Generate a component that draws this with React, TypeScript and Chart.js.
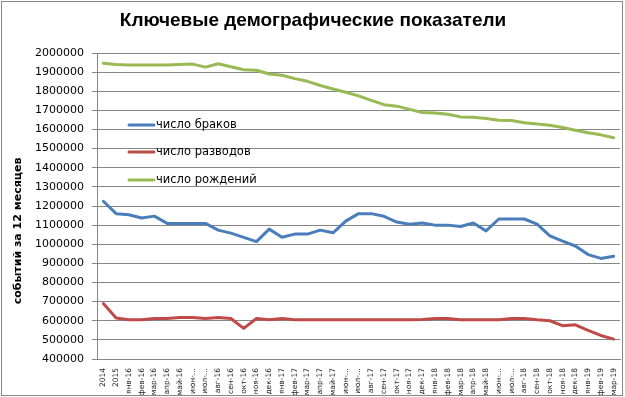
import React, { useEffect, useRef } from "react";
import { Chart, registerables } from "chart.js";

Chart.register(...registerables);

const chartTitle = "Ключевые демографические показатели";
const yAxisTitle = "событий за 12 месяцев";

const categories = [
  "2014", "2015",
  "янв-16", "фев-16", "мар-16", "апр-16", "май-16", "июн-...", "июл-...", "авг-16", "сен-16", "окт-16", "ноя-16", "дек-16",
  "янв-17", "фев-17", "мар-17", "апр-17", "май-17", "июн-...", "июл-...", "авг-17", "сен-17", "окт-17", "ноя-17", "дек-17",
  "янв-18", "фев-18", "мар-18", "апр-18", "май-18", "июн-...", "июл-...", "авг-18", "сен-18", "окт-18", "ноя-18", "дек-18",
  "янв-19", "фев-19", "мар-19",
];

const seriesNames = ["число браков", "число разводов", "число рождений"];

const marriages = [
  1225000, 1160000,
  1154000, 1137000, 1147000, 1109000, 1109000, 1109000, 1109000, 1074000, 1058000, 1036000, 1014000, 1079000,
  1037000, 1053000, 1053000, 1074000, 1060000, 1121000, 1160000, 1160000, 1146000, 1116000, 1105000, 1111000,
  1100000, 1100000, 1093000, 1111000, 1070000, 1132000, 1132000, 1132000, 1105000, 1044000, 1016000, 991000,
  946000, 926000, 937000,
];

const divorces = [
  690000, 614000,
  605000, 605000, 612000, 612000, 617000, 617000, 612000, 617000, 612000, 560000, 612000, 605000,
  612000, 605000, 605000, 605000, 605000, 605000, 605000, 605000, 605000, 605000, 605000, 607000,
  612000, 612000, 605000, 605000, 605000, 605000, 612000, 612000, 605000, 600000, 574000, 579000,
  550000, 523000, 504000,
];

const births = [
  1947000, 1940000,
  1937000, 1937000, 1937000, 1937000, 1940000, 1942000, 1926000, 1944000, 1928000, 1912000, 1910000, 1890000,
  1884000, 1866000, 1852000, 1830000, 1812000, 1795000, 1776000, 1752000, 1730000, 1722000, 1705000, 1689000,
  1686000, 1680000, 1666000, 1664000, 1658000, 1648000, 1647000, 1635000, 1629000, 1622000, 1610000, 1596000,
  1583000, 1572000, 1557000,
];

const seriesColors = ["#4A7EBB", "#BE4B48", "#98B954"];

const yMin = 400000;
const yMax = 2000000;
const yStep = 100000;

const decorPlugin = {
  id: "decor",
  beforeDraw(chart: any) {
    const ctx = chart.ctx;
    ctx.save();
    ctx.fillStyle = "#ffffff";
    ctx.fillRect(0, 0, chart.width, chart.height);
    ctx.restore();
  },
  afterDraw(chart: any) {
    const ctx = chart.ctx;
    ctx.save();
    // outer border
    ctx.strokeStyle = "#868686";
    ctx.lineWidth = 1;
    ctx.strokeRect(1.5, 1.5, 621, 394);
    // title
    ctx.fillStyle = "#000000";
    ctx.font = "bold 19px 'Liberation Sans', Arial, sans-serif";
    ctx.textAlign = "center";
    ctx.textBaseline = "middle";
    ctx.fillText(chartTitle, 313, 21);
    // y axis title
    ctx.save();
    ctx.translate(18, 231);
    ctx.rotate(-Math.PI / 2);
    ctx.font = "bold 11px 'DejaVu Sans', sans-serif";
    ctx.textAlign = "center";
    ctx.textBaseline = "middle";
    ctx.fillText(yAxisTitle, 0, 0);
    ctx.restore();
    // legend
    const rows = [125, 152, 180];
    chart.data.datasets.forEach((ds: any, i: number) => {
      const y = rows[i];
      ctx.strokeStyle = ds.borderColor;
      ctx.lineWidth = 3;
      ctx.lineCap = "round";
      ctx.beginPath();
      ctx.moveTo(129, y);
      ctx.lineTo(154, y);
      ctx.stroke();
      ctx.fillStyle = "#000000";
      ctx.font = "11.5px 'DejaVu Sans', sans-serif";
      ctx.textAlign = "left";
      ctx.textBaseline = "middle";
      ctx.fillText(ds.label, 156, y);
    });
    ctx.restore();
  },
};

export default function App() {
  const canvasRef = useRef<HTMLCanvasElement | null>(null);

  useEffect(() => {
    const canvas = canvasRef.current;
    if (!canvas) return;
    const data = [marriages, divorces, births];
    const chart = new Chart(canvas, {
      type: "line",
      data: {
        labels: categories,
        datasets: seriesNames.map((name, i) => ({
          label: name,
          data: data[i],
          borderColor: seriesColors[i],
          backgroundColor: seriesColors[i],
          borderWidth: 3,
          pointRadius: 0,
          pointHoverRadius: 0,
          tension: 0,
          borderCapStyle: "round" as const,
          borderJoinStyle: "round" as const,
          fill: false,
        })),
      },
      options: {
        animation: false,
        responsive: false,
        devicePixelRatio: 1,
        events: [],
        layout: { padding: { left: 0, top: 53, right: 5, bottom: 0 } },
        plugins: {
          legend: { display: false },
          title: { display: false },
          tooltip: { enabled: false },
        },
        scales: {
          x: {
            type: "category",
            offset: true,
            grid: { display: false },
            border: { display: true, color: "#868686", width: 1 },
            ticks: {
              autoSkip: false,
              minRotation: 90,
              maxRotation: 90,
              padding: 1,
              color: "#222222",
              font: { family: "'DejaVu Sans', sans-serif", size: 7.5 },
            },
            afterFit(scale: any) {
              scale.height = 38;
            },
          },
          y: {
            type: "linear",
            min: yMin,
            max: yMax,
            grid: {
              color: "#868686",
              lineWidth: 1,
              drawTicks: true,
              tickLength: 5,
            },
            border: { display: true, color: "#868686", width: 1 },
            ticks: {
              stepSize: yStep,
              padding: 8,
              color: "#000000",
              font: { family: "'DejaVu Sans', sans-serif", size: 11 },
              callback: (v: any) => String(v),
            },
            afterFit(scale: any) {
              scale.width = 97;
            },
          },
        },
      },
      plugins: [decorPlugin],
    });
    return () => chart.destroy();
  }, []);

  return (
    <div style={{ position: "absolute", left: 0, top: 0, width: 625, height: 397 }}>
      <canvas ref={canvasRef} width={625} height={397} style={{ display: "block" }} />
    </div>
  );
}
